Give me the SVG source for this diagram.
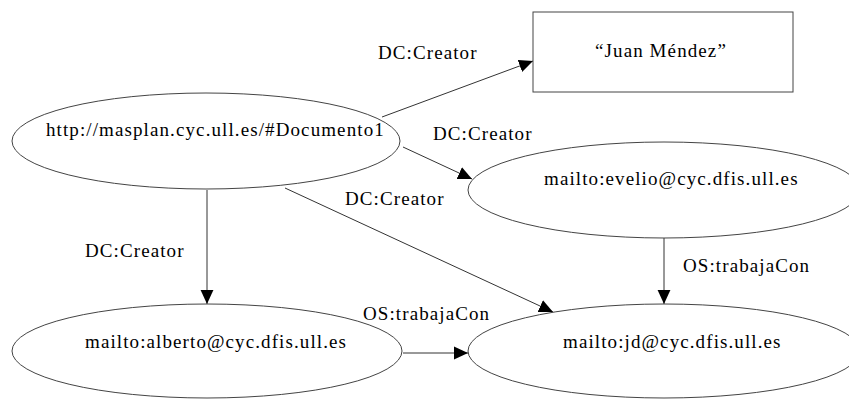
<svg xmlns="http://www.w3.org/2000/svg" width="849" height="399" viewBox="0 0 849 399">
<style>
  .node { fill: #ffffff; stroke: #444444; stroke-width: 1; }
  .edge { fill: none; stroke: #333333; stroke-width: 1; marker-end: url(#arrow); }
  .lbl { font-family: "Liberation Serif", "Times New Roman", serif; font-size: 19px; letter-spacing: 1.1px; fill: #000000; }
</style>
<defs>
  <marker id="arrow" markerUnits="userSpaceOnUse" markerWidth="14" markerHeight="14" viewBox="0 0 12 12" refX="12" refY="6" orient="auto">
    <path d="M0,0.5 L12,6 L0,11.5 Z" fill="#000000"/>
  </marker>
</defs>
<rect width="849" height="399" fill="#ffffff"/>
<g id="connectors">
  <line class="edge" x1="382" y1="117" x2="533" y2="61"/>
  <line class="edge" x1="403" y1="147" x2="472" y2="179"/>
  <line class="edge" x1="285" y1="188" x2="553" y2="312"/>
  <line class="edge" x1="207" y1="190" x2="207" y2="304"/>
  <line class="edge" x1="664" y1="238" x2="664" y2="304"/>
  <line class="edge" x1="403" y1="353" x2="468" y2="353"/>
  <text class="lbl" x="378" y="59">DC:Creator</text>
  <text class="lbl" x="433" y="140">DC:Creator</text>
  <text class="lbl" x="345" y="205">DC:Creator</text>
  <text class="lbl" x="85" y="257">DC:Creator</text>
  <text class="lbl" x="363" y="320">OS:trabajaCon</text>
  <text class="lbl" x="683" y="272">OS:trabajaCon</text>
</g>
<g id="doc1">
  <ellipse class="node" cx="206" cy="141" rx="194" ry="48"/>
  <text class="lbl" x="46" y="136">http://masplan.cyc.ull.es/#Documento1</text>
</g>
<g id="juan">
  <rect class="node" x="533" y="12" width="260" height="80"/>
  <text class="lbl" x="595" y="57">“Juan Méndez”</text>
</g>
<g id="evelio">
  <ellipse class="node" cx="664" cy="190" rx="196" ry="48"/>
  <text class="lbl" x="544" y="185">mailto:evelio@cyc.dfis.ull.es</text>
</g>
<g id="alberto">
  <ellipse class="node" cx="207" cy="351" rx="195" ry="47"/>
  <text class="lbl" x="85" y="348">mailto:alberto@cyc.dfis.ull.es</text>
</g>
<g id="jd">
  <ellipse class="node" cx="664" cy="351" rx="196" ry="47"/>
  <text class="lbl" x="563" y="348">mailto:jd@cyc.dfis.ull.es</text>
</g>
</svg>
